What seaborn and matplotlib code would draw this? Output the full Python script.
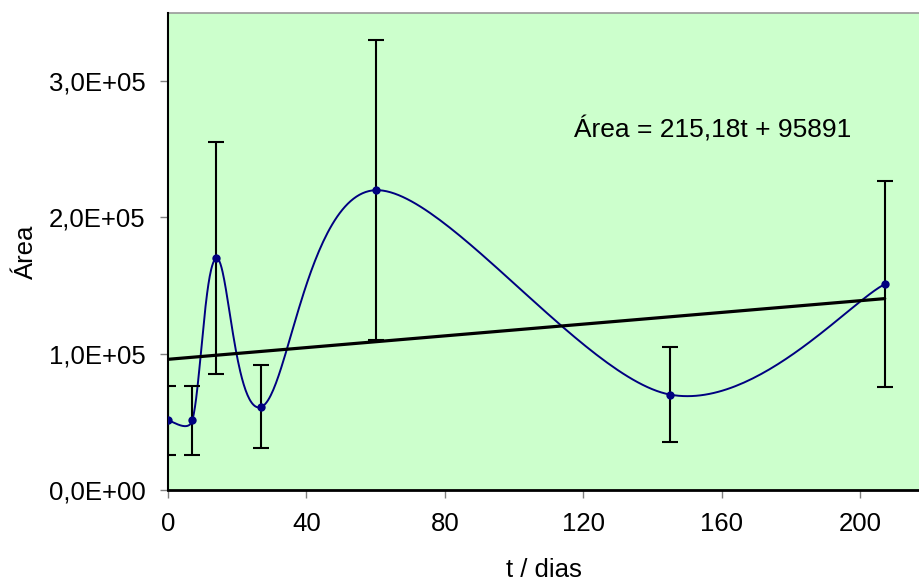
import numpy as np
import pandas as pd
import matplotlib
matplotlib.use("Agg")
import matplotlib.pyplot as plt
import seaborn as sns

# ---- data ----
t_days = [0, 7, 14, 27, 60, 145, 207]
area = [51000, 51000, 170000, 61000, 220000, 70000, 151000]
err_low = [25500, 25500, 85000, 30500, 110000, 35000, 75500]
err_high = [25500, 25500, 85000, 30500, 110000, 35000, 75500]
trend_slope = 215.18
trend_intercept = 95891
y_ticks = [0, 100000, 200000, 300000]
y_tick_labels = ["0,0E+00", "1,0E+05", "2,0E+05", "3,0E+05"]
x_ticks = [0, 40, 80, 120, 160, 200]
equation_label = "Área = 215,18t + 95891"

sns.set_theme(style="white")
plt.rcParams['font.family'] = ['Liberation Sans', 'DejaVu Sans']

W, H, DPI = 920, 583, 100
fig = plt.figure(figsize=(W / DPI, H / DPI), dpi=DPI)
fig.patch.set_facecolor("white")
ax = fig.add_axes([168 / W, 1 - 490 / H, (919 - 168) / W, (490 - 13) / H])
ax.set_facecolor("#CCFFCC")

xlim = (0, 216.9)
ylim = (0, 350000)
ax.set_xlim(*xlim)
ax.set_ylim(*ylim)

# ---- smoothed line (Bezier in screen space, like Excel smoothing) ----
sx = (919 - 168) / (xlim[1] - xlim[0])
sy = (490 - 13) / (ylim[1] - ylim[0])
P = np.column_stack([np.asarray(t_days, float) * sx, np.asarray(area, float) * sy])
n = len(P)


def arm(vec, seg_len):
    v = vec / 6.0
    L = np.hypot(*v)
    cap = 0.55 * seg_len
    if L > cap and L > 0:
        v = v * cap / L
    return v


seg_pts = []
for i in range(n - 1):
    p0 = P[i - 1] if i > 0 else P[i]
    p1 = P[i]
    p2 = P[i + 1]
    p3 = P[i + 2] if i + 2 < n else P[i + 1]
    d12 = np.hypot(*(p2 - p1))
    c1 = p1 + arm(p2 - p0, d12)
    c2 = p2 - arm(p3 - p1, d12)
    u = np.linspace(0, 1, 60)[:, None]
    b = ((1 - u) ** 3) * p1 + 3 * ((1 - u) ** 2) * u * c1 + 3 * (1 - u) * u ** 2 * c2 + u ** 3 * p2
    if i > 0:
        b = b[1:]
    seg_pts.append(b)
curve = np.vstack(seg_pts)
smooth_df = pd.DataFrame({"t": curve[:, 0] / sx, "area": curve[:, 1] / sy})
sns.lineplot(data=smooth_df, x="t", y="area", sort=False, estimator=None, color="#000080",
             linewidth=1.4, ax=ax, zorder=3)

# ---- trend line ----
t_line = np.array([min(t_days), max(t_days)], float)
trend_df = pd.DataFrame({"t": t_line, "area": trend_slope * t_line + trend_intercept})
sns.lineplot(data=trend_df, x="t", y="area", color="black", linewidth=2.3, ax=ax, zorder=4)

# ---- error bars ----
ax.errorbar(t_days, area, yerr=[err_low, err_high], fmt="none", ecolor="black",
            elinewidth=1.5, capsize=5.5, capthick=1.5, zorder=5)

# ---- points ----
pts_df = pd.DataFrame({"t": t_days, "area": area})
sns.scatterplot(data=pts_df, x="t", y="area", color="#000080", s=36, edgecolor="#000080",
                linewidth=0, ax=ax, zorder=6)

# ---- axes styling ----
for side in ["top", "right"]:
    ax.spines[side].set_visible(False)
ax.spines["left"].set_color("black")
ax.spines["left"].set_linewidth(1.5)
ax.spines["bottom"].set_color("black")
ax.spines["bottom"].set_linewidth(2.0)
ax.axhline(ylim[1], color="#999999", linewidth=1.2, clip_on=False)

ax.set_xticks(x_ticks)
ax.set_xticklabels([str(v) for v in x_ticks])
ax.set_yticks(y_ticks)
ax.set_yticklabels(y_tick_labels)
ax.tick_params(axis="both", direction="out", length=6, width=1, color="#808080",
               labelsize=18.5, labelcolor="black", pad=10, bottom=True, left=True)

ax.set_xlabel("t / dias", fontsize=18.5, labelpad=16, color="black")
ax.set_ylabel("Área", fontsize=18.5, labelpad=8, color="black")

ax.text(0.541, 0.755, equation_label, transform=ax.transAxes, fontsize=19,
        ha="left", va="center", color="black")

fig.savefig("out.png", dpi=DPI)
